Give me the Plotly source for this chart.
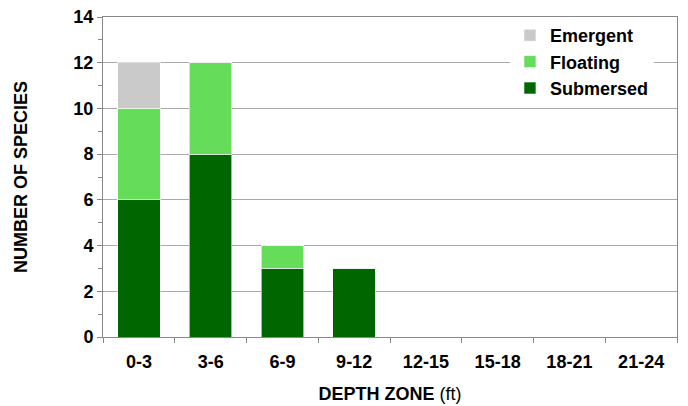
import plotly.graph_objects as go

zones = ["0-3", "3-6", "6-9", "9-12", "12-15", "15-18", "18-21", "21-24"]
submersed = [6, 8, 3, 3, 0, 0, 0, 0]
floating = [4, 4, 1, 0, 0, 0, 0, 0]
emergent = [2, 0, 0, 0, 0, 0, 0, 0]

FONT = "Liberation Sans, Arial, sans-serif"

fig = go.Figure()
for name, vals, col in [("Submersed", submersed, "#006600"),
                        ("Floating", floating, "#66dd5a"),
                        ("Emergent", emergent, "#cacaca")]:
    fig.add_trace(go.Bar(x=zones, y=vals, name=name, marker_color=col,
                         marker_line=dict(color="rgba(255,255,255,0.6)", width=1)))

# page body has an 8px margin, so the figure is 680x398 and shifted margins
fig.update_layout(
    width=680, height=398,
    barmode="stack", bargap=0.41,
    paper_bgcolor="white", plot_bgcolor="white",
    margin=dict(l=95, r=11, t=9, b=69, autoexpand=False),
    font=dict(family=FONT, color="black"),
    showlegend=True,
    legend=dict(x=0.709, xanchor="left", y=1, yanchor="top",
                traceorder="reversed", bgcolor="white",
                font=dict(size=18, weight="bold", family=FONT),
                itemwidth=30),
    xaxis=dict(
        showline=True, linecolor="#888", linewidth=1, mirror=True,
        ticks="outside", tickson="boundaries", ticklen=5, tickcolor="#888",
        tickfont=dict(size=18, weight="bold"), ticklabelstandoff=8,
        title=dict(text="<b>DEPTH ZONE</b> (ft)", font=dict(size=18), standoff=16),
        showgrid=False,
    ),
    yaxis=dict(
        range=[0, 14], dtick=2, showgrid=True, gridcolor="#aaaaaa", gridwidth=1,
        showline=True, linecolor="#888", linewidth=1, mirror=True,
        ticks="outside", ticklen=5, tickcolor="#888", ticklabeloverflow="allow",
        minor=dict(dtick=1, ticks="outside", ticklen=4, tickcolor="#888", showgrid=False),
        tickfont=dict(size=18, weight="bold"),
        title=dict(text="<b>NUMBER OF SPECIES</b>", font=dict(size=18), standoff=41),
        zeroline=False,
    ),
)

fig.write_html("out.html")
